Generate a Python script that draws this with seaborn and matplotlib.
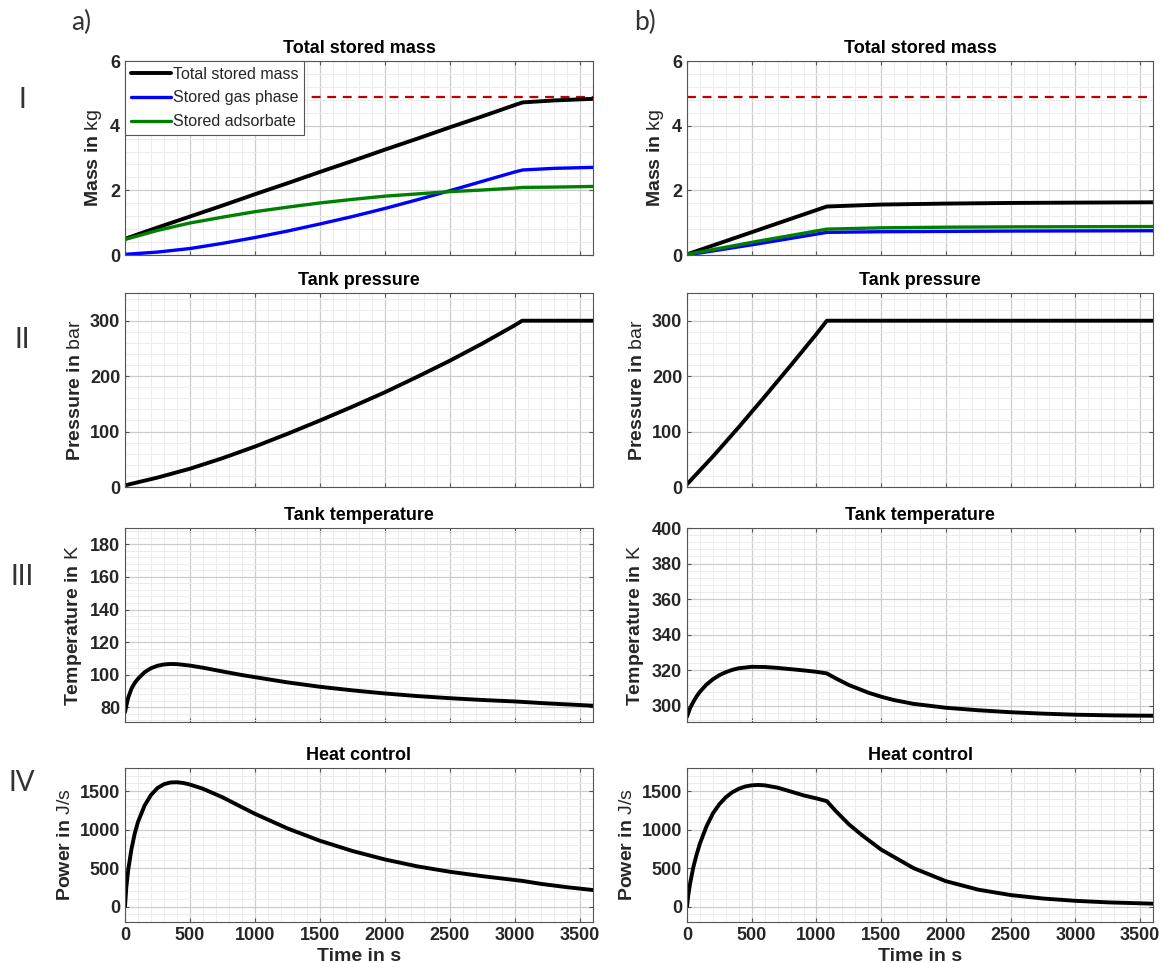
import matplotlib

matplotlib.use("Agg")
import matplotlib.pyplot as plt
from matplotlib.ticker import AutoMinorLocator, MultipleLocator
import seaborn as sns

# ---- data ----
# a) long filling (ends ~3060 s)
t_mass_a = [0, 250, 500, 750, 1000, 1250, 1500, 1750, 2000, 2250, 2500, 2750, 3000, 3060, 3300, 3600]
total_a = [0.50, 0.85, 1.19, 1.53, 1.88, 2.22, 2.57, 2.91, 3.26, 3.60, 3.95, 4.29, 4.64, 4.72, 4.78, 4.83]
gas_a = [0.02, 0.09, 0.20, 0.36, 0.54, 0.74, 0.96, 1.19, 1.44, 1.71, 1.99, 2.28, 2.57, 2.63, 2.68, 2.71]
ads_a = [0.48, 0.76, 0.99, 1.17, 1.34, 1.48, 1.61, 1.72, 1.82, 1.89, 1.96, 2.01, 2.07, 2.09, 2.10, 2.12]

t_p_a = [0, 250, 500, 750, 1000, 1250, 1500, 1750, 2000, 2250, 2500, 2750, 3000, 3055, 3300, 3600]
pres_a = [3, 17, 33, 52, 73, 96, 120, 145, 171, 199, 228, 259, 292, 300, 300, 300]

t_T_a = [0, 10, 25, 50, 75, 100, 150, 200, 250, 300, 350, 400, 500, 600, 750, 900, 1000, 1250,
         1500, 1750, 2000, 2250, 2500, 2750, 3000, 3250, 3600]
temp_a = [77, 81, 86, 91.5, 95, 97.5, 101.5, 104, 105.5, 106.3, 106.6, 106.5, 105.6, 104.3, 102.0,
          99.8, 98.5, 95.3, 92.6, 90.4, 88.5, 86.9, 85.6, 84.5, 83.6, 82.4, 81.0]

t_Q_a = [0, 10, 25, 50, 75, 100, 150, 200, 250, 300, 350, 400, 450, 500, 600, 750, 900, 1000,
         1250, 1500, 1750, 2000, 2250, 2500, 2750, 3000, 3060, 3200, 3400, 3600]
heat_a = [0, 250, 480, 750, 950, 1100, 1310, 1450, 1540, 1590, 1612, 1615, 1605, 1585, 1530, 1420,
          1290, 1205, 1015, 855, 722, 612, 522, 452, 395, 345, 333, 295, 252, 215]

# b) short filling (ends ~1080 s)
t_mass_b = [0, 540, 1080, 1500, 2000, 2500, 3000, 3600]
total_b = [0.02, 0.76, 1.50, 1.56, 1.59, 1.61, 1.62, 1.63]
gas_b = [0.0, 0.34, 0.70, 0.72, 0.73, 0.74, 0.745, 0.75]
ads_b = [0.02, 0.42, 0.80, 0.84, 0.86, 0.87, 0.875, 0.88]

t_p_b = [0, 200, 400, 600, 800, 1000, 1080, 1500, 2000, 2500, 3000, 3600]
pres_b = [5, 55, 108, 163, 219, 276, 300, 300, 300, 300, 300, 300]

t_T_b = [0, 10, 25, 50, 75, 100, 150, 200, 250, 300, 350, 400, 500, 600, 700, 800, 900, 1000,
         1080, 1150, 1250, 1400, 1500, 1600, 1750, 2000, 2250, 2500, 2750, 3000, 3300, 3600]
temp_b = [294, 296, 299, 302.5, 305.5, 308, 312, 315, 317.3, 319, 320.3, 321.2, 322, 321.9, 321.4,
          320.7, 320, 319.2, 318.3, 315.5, 311.8, 307.5, 305.2, 303.3, 301.2, 299, 297.6, 296.5,
          295.7, 295.1, 294.7, 294.5]

t_Q_b = [0, 10, 25, 50, 75, 100, 150, 200, 250, 300, 350, 400, 450, 500, 550, 600, 700, 800, 900,
         1000, 1080, 1150, 1250, 1350, 1500, 1750, 2000, 2250, 2500, 2750, 3000, 3250, 3600]
heat_b = [0, 150, 310, 520, 680, 820, 1040, 1210, 1330, 1420, 1485, 1530, 1560, 1575, 1580, 1575,
          1545, 1495, 1445, 1405, 1370, 1240, 1070, 930, 740, 500, 330, 220, 150, 105, 75, 55, 38]

capacity = 4.9
t_end = 3600

sns.set_style("ticks")
plt.rcParams["font.family"] = ["Liberation Sans", "DejaVu Sans"]
plt.rcParams["mathtext.fontset"] = "custom"
plt.rcParams["mathtext.rm"] = "Liberation Sans"

W, H = 1164, 963
fig = plt.figure(figsize=(W / 100, H / 100), dpi=100)

col_x = [125, 687]
col_w = [468, 466]
row_top = [61, 293, 528, 768]
row_h = [194, 194, 194, 154]

TXT = "#262626"


def make_ax(r, c):
    l = col_x[c] / W
    b = 1 - (row_top[r] + row_h[r]) / H
    return fig.add_axes([l, b, col_w[c] / W, row_h[r] / H])


def style(ax, title, ylabel, ylim, ystep, bottom=False):
    ax.set_xlim(0, t_end)
    ax.set_ylim(*ylim)
    ax.xaxis.set_major_locator(MultipleLocator(500))
    ax.xaxis.set_minor_locator(AutoMinorLocator(5))
    ax.yaxis.set_major_locator(MultipleLocator(ystep))
    ax.yaxis.set_minor_locator(AutoMinorLocator(5))
    ax.grid(which="major", color="#cdcdcd", lw=0.9)
    ax.grid(which="minor", color="#ececec", lw=0.7)
    ax.set_axisbelow(True)
    for s in ax.spines.values():
        s.set_color("#555555")
        s.set_linewidth(0.8)
    ax.tick_params(which="both", direction="in", top=True, right=True, colors="#555555",
                   labelcolor=TXT, labelsize=13, length=3)
    ax.tick_params(which="minor", length=0)
    for lab in ax.get_xticklabels() + ax.get_yticklabels():
        lab.set_fontweight("bold")
    ax.set_title(title, fontsize=13, fontweight="bold", color="black", pad=6)
    ax.set_ylabel(ylabel, fontsize=14, fontweight="bold", color=TXT, labelpad=4)
    if bottom:
        ax.set_xlabel("Time in s", fontsize=14, fontweight="bold", color=TXT, labelpad=3)
    else:
        ax.set_xticklabels([])
        ax.set_xlabel("")


panels = {
    0: (t_mass_a, total_a, gas_a, ads_a, t_p_a, pres_a, t_T_a, temp_a, t_Q_a, heat_a, (71, 190)),
    1: (t_mass_b, total_b, gas_b, ads_b, t_p_b, pres_b, t_T_b, temp_b, t_Q_b, heat_b, (291, 400)),
}

for c, (tm, tot, gas, ads, tp, pr, tT, tmp, tQ, ht, tlim) in panels.items():
    # row I: mass
    ax = make_ax(0, c)
    sns.lineplot(x=[0, t_end], y=[capacity, capacity], ax=ax, color="#c00000", lw=1.6,
                 linestyle=(0, (4, 3)))
    sns.lineplot(x=tm, y=tot, ax=ax, color="black", lw=2.8, label="Total stored mass")
    sns.lineplot(x=tm, y=gas, ax=ax, color="#0000ff", lw=2.4, label="Stored gas phase")
    sns.lineplot(x=tm, y=ads, ax=ax, color="#008000", lw=2.4, label="Stored adsorbate")
    if c == 0:
        leg = ax.legend(loc="upper left", fontsize=11.5, frameon=True, fancybox=False,
                        handlelength=2.5, handletextpad=0.15, borderaxespad=0.0,
                        borderpad=0.35, labelspacing=0.55)
        leg.get_frame().set_edgecolor("#555555")
        leg.get_frame().set_linewidth(0.8)
        leg.get_frame().set_alpha(1)
        leg.set_zorder(10)
    else:
        ax.get_legend().remove()
    style(ax, "Total stored mass", r"Mass in $\mathrm{kg}$", (0, 6), 2)

    # row II: pressure
    ax = make_ax(1, c)
    sns.lineplot(x=tp, y=pr, ax=ax, color="black", lw=2.8)
    style(ax, "Tank pressure", r"Pressure in $\mathrm{bar}$", (0, 350), 100)

    # row III: temperature
    ax = make_ax(2, c)
    sns.lineplot(x=tT, y=tmp, ax=ax, color="black", lw=2.8)
    style(ax, "Tank temperature", r"Temperature in $\mathrm{K}$", tlim, 20)

    # row IV: heat control
    ax = make_ax(3, c)
    sns.lineplot(x=tQ, y=ht, ax=ax, color="black", lw=2.8)
    style(ax, "Heat control", r"Power in $\mathrm{J/s}$", (-200, 1800), 500, bottom=True)

# panel and row labels
lab_kw = dict(color="#333333", family=["Lato", "DejaVu Sans"], ha="center", va="center")
fig.text(81 / W, 1 - 22 / H, "a)", fontsize=19, **lab_kw)
fig.text(645 / W, 1 - 22 / H, "b)", fontsize=19, **lab_kw)
for txt, y in [("I", 100), ("II", 340), ("III", 577), ("IV", 783)]:
    fig.text(22 / W, 1 - y / H, txt, fontsize=20, **lab_kw)

fig.savefig("out.png", dpi=100, facecolor="white")
